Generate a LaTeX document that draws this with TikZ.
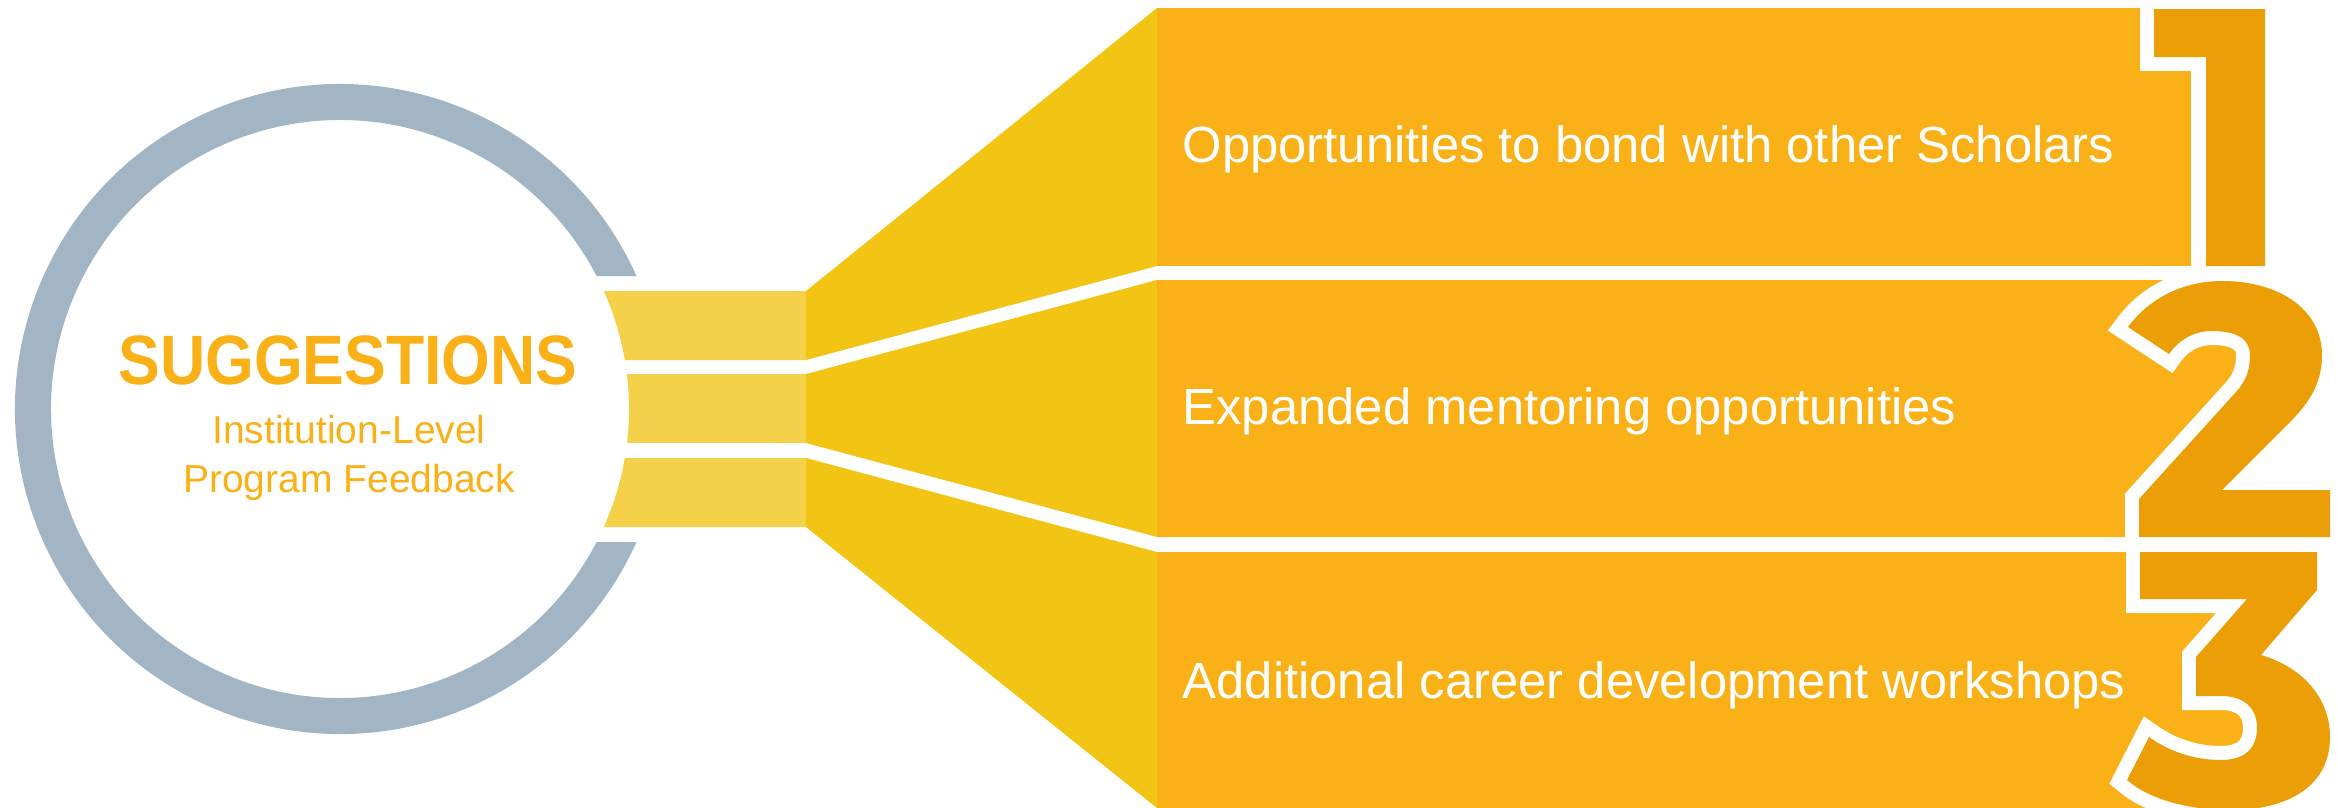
\documentclass[tikz,border=0pt]{standalone}
\usepackage{fontspec}
\setmainfont{Liberation Sans}
\newfontfamily\fuentetitulo{Liberation Sans}[FakeStretch=0.895]
\definecolor{grisazul}{rgb}{0.63, 0.71, 0.77}
\definecolor{amarilloclaro}{rgb}{0.96, 0.82, 0.29}
\definecolor{amarillo}{rgb}{0.95, 0.77, 0.08}
\definecolor{naranja}{rgb}{0.98, 0.69, 0.09}
\definecolor{naranjaoscuro}{rgb}{0.92, 0.62, 0.02}
\tikzset{
  anillo/.style={fill=grisazul},
  tramo/.style={fill=amarilloclaro},
  embudo/.style={fill=amarillo},
  panel/.style={fill=naranja},
  cifra/.style={
    fill=naranjaoscuro,
    preaction={draw=white, line width=2.8mm, line join=miter, miter limit=3}
  },
  titulo/.style={
    font=\fuentetitulo\bfseries\fontsize{19.9}{24}\selectfont,
    text=naranja,
    inner sep=0pt,
    anchor=base
  },
  subtitulo/.style={
    font=\fontsize{11.1}{14}\selectfont,
    text=naranja,
    inner sep=0pt,
    anchor=base
  },
  texto/.style={
    font=\fontsize{14.45}{17}\selectfont,
    text=white,
    inner sep=0pt,
    anchor=base west
  }
}

\begin{document}
\begin{tikzpicture}[x=0.1mm, y=-0.1mm]
\useasboundingbox (0,0) rectangle (2338,807);
\clip (0,0) rectangle (2338,807);
% circulo abierto a la derecha
\fill[anillo] (636.5,276) arc[start angle=-24.16, end angle=-335.84, radius=325]
  -- (596.6,542) arc[start angle=-332.6, end angle=-27.4, radius=289] -- cycle;
\fill[tramo] (806,291) -- (603.8,291) arc[start angle=-24.1, end angle=-9.76, radius=289] -- (806,360) -- cycle;
\fill[tramo] (806,374) -- (626.9,374) arc[start angle=-6.95, end angle=6.75, radius=289] -- (806,443) -- cycle;
\fill[tramo] (806,458) -- (624.8,458) arc[start angle=9.76, end angle=24.1, radius=289] -- (806,527) -- cycle;
\fill[embudo] (806,291) -- (1157,8) -- (1157,266) -- (806,360) -- cycle;
\fill[embudo] (806,374) -- (1157,280) -- (1157,537) -- (806,443) -- cycle;
\fill[embudo] (806,458) -- (1157,552) -- (1157,808) -- (806,527) -- cycle;
% paneles
\fill[panel] (1157,8) rectangle (2191,266);
\fill[panel] (1157,280) -- (2221,280) -- (2290,330) -- (2262,430) -- (2221,490)
  -- (2300,490) -- (2300,537) -- (1157,537) -- cycle;
\fill[panel] (1157,552) -- (2290,552) -- (2290,590) -- (2240,665) -- (2300,737)
  -- (2240,808) -- (1157,808) -- cycle;
% cifras
\fill[cifra] (2154,9) -- (2265,9) -- (2265,266) -- (2206,266) -- (2206,57) -- (2154,57) -- cycle;
\fill[cifra] (2128,327) .. controls (2150,297) and (2185,281) .. (2222,281)
  .. controls (2280,281) and (2322,310) .. (2322,355)
  .. controls (2322,385) and (2308,405) .. (2284,428)
  -- (2222,490) -- (2330,490) -- (2330,537) -- (2139,537) -- (2139,499)
  -- (2236,392) .. controls (2247,380) and (2250,368) .. (2250,355)
  .. controls (2250,338) and (2235,331) .. (2212,331)
  .. controls (2193,331) and (2178,341) .. (2169,354) -- cycle;
\fill[cifra] (2140,552) -- (2317,552) -- (2317,590) -- (2261,655)
  .. controls (2305,668) and (2330,700) .. (2330,737)
  .. controls (2330,785) and (2290,810) .. (2230,810)
  .. controls (2190,810) and (2150,800) .. (2127,780)
  -- (2149,737) .. controls (2170,752) and (2195,760) .. (2221,760)
  .. controls (2245,760) and (2257,748) .. (2257,728)
  .. controls (2257,707) and (2243,696) .. (2221,696)
  -- (2196,696) -- (2196,657) -- (2247,599) -- (2140,599) -- cycle;
% textos
\node[titulo] (sugerencias) at (348,384.5) {SUGGESTIONS};
\node[subtitulo] (institucion) at (349,443) {Institution-Level};
\node[subtitulo] (programa) at ([yshift=-14.2pt]institucion.base) {Program Feedback};
\node[texto] (opcion1) at (1182,162) {Opportunities to bond with other Scholars};
\node[texto] (opcion2) at (1182,424) {Expanded mentoring opportunities};
\node[texto] (opcion3) at (1182,698) {Additional career development workshops};
\end{tikzpicture}
\end{document}
